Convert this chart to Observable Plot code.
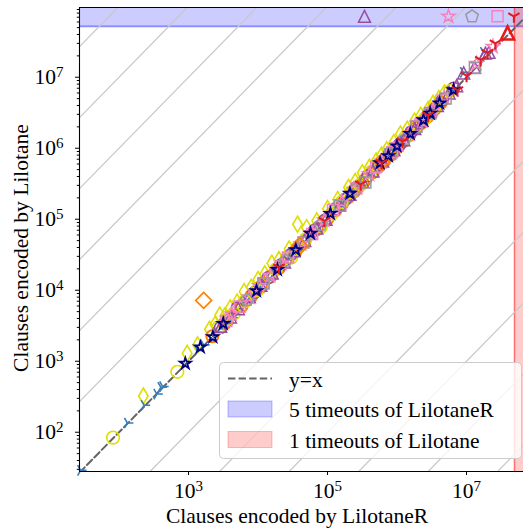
<!DOCTYPE html>
<html>
<head>
<meta charset="utf-8">
<script src="https://cdn.jsdelivr.net/npm/d3@7"></script>
<script src="https://cdn.jsdelivr.net/npm/@observablehq/plot@0.6"></script>
<style>
  html, body { margin: 0; padding: 0; background: #fff; overflow: hidden; }
</style>
</head>
<body>
<div id="chart"></div>
<script>
// Clause counts per instance: x = LilotaneR, y = Lilotane
const blueTriX = [28, 132, 230, 350, 400, 425, 1350, 1650, 2500, 3000, 3300, 4300, 5200, 6800, 7800, 9000, 11500, 14500, 17000, 21000, 30000, 38000, 50000, 68000, 85000, 105000, 140000, 170000, 230000, 290000, 400000, 520000, 700000, 880000, 1200000, 1600000, 2100000, 2700000, 3400000, 4300000, 6000000, 9000000, 17500000];
const blueTriY = [29, 135, 240, 345, 430, 440, 1420, 1700, 2550, 3200, 3350, 4100, 5000, 7000, 8300, 9200, 12500, 14000, 18000, 22500, 33000, 37000, 52000, 66000, 92000, 112000, 150000, 176000, 250000, 300000, 420000, 540000, 760000, 920000, 1300000, 1650000, 2200000, 2800000, 3700000, 4400000, 6500000, 11700000, 22500000];

const purpleCircX = [2900, 3600, 5000, 6500, 9000, 14000, 21000, 30000, 40000, 65000, 90000, 130000, 180000, 260000, 380000, 550000, 800000, 1100000, 1600000, 2200000, 3200000, 4500000, 6500000];
const purpleCircY = [3000, 3700, 5600, 7000, 9400, 15000, 22500, 32000, 43000, 70000, 96000, 140000, 190000, 280000, 410000, 590000, 850000, 1150000, 1700000, 2300000, 3300000, 4800000, 7000000];

const purpleTriX = [2900, 4000, 5200, 7500, 11000, 16000, 24000, 33000, 47000, 70000, 95000, 150000, 210000, 320000, 450000, 620000, 900000, 1250000, 1800000, 2300000, 3000000, 3800000, 5600000, 7200000, 9100000, 13000000, 18700000, 21000000, 340000];
const purpleTriY = [3100, 4200, 5500, 8100, 11800, 17500, 25000, 36000, 50000, 75000, 100000, 160000, 225000, 340000, 480000, 660000, 950000, 1320000, 1900000, 2450000, 3300000, 4000000, 6000000, 7600000, 11500000, 13800000, 21900000, 22400000, 72000000];

const pinkSqX = [3500, 5500, 12000, 27000, 60000, 120000, 260000, 500000, 850000, 1900000, 3000000, 28000000];
const pinkSqY = [3700, 5900, 12500, 29000, 62000, 135000, 270000, 540000, 880000, 2050000, 3100000, 72000000];

const pinkStarX = [4200, 7500, 10500, 15000, 22000, 42000, 60000, 90000, 160000, 240000, 400000, 600000, 1050000, 1500000, 2300000, 3300000, 4800000, 14000000, 24000000, 5500000];
const pinkStarY = [4600, 8000, 11500, 16000, 24000, 45000, 64000, 97000, 175000, 260000, 430000, 650000, 1120000, 1600000, 2450000, 3500000, 5200000, 15500000, 27000000, 72000000];

const graySqX = [12000, 45000, 150000, 350000, 800000, 1900000, 3000000, 5000000, 13200000];
const graySqY = [12500, 47000, 155000, 330000, 830000, 2000000, 3100000, 5000000, 13500000];

const grayPentX = [7000, 25000, 80000, 250000, 1300000, 12000000];
const grayPentY = [7300, 26000, 84000, 260000, 1350000, 72000000];

const orangeCircX = [2200, 3300, 5800, 8000, 11000, 15000, 20000, 26000, 35000, 46000, 70000, 100000, 130000, 160000, 200000, 240000, 280000, 320000, 350000, 450000, 550000, 650000, 780000, 900000, 1050000, 1200000, 1500000, 1900000, 2200000, 2700000, 3000000, 3500000, 4300000];
const orangeCircY = [2250, 3400, 6000, 8300, 11200, 15500, 20500, 27500, 36000, 48000, 72000, 102000, 134000, 163000, 205000, 245000, 290000, 325000, 360000, 460000, 560000, 660000, 790000, 915000, 1070000, 1230000, 1530000, 1950000, 2250000, 2750000, 3050000, 3600000, 4400000];

const orangeDiaX = [1650, 40000, 600000];
const orangeDiaY = [7200, 42000, 640000];

const yellowCircX = [82, 690, 2700, 3600, 4500, 6500, 9800, 18000, 26000, 30000, 38000, 48000, 80000, 115000, 160000, 220000, 300000, 420000, 600000, 900000, 1300000, 1900000, 2500000, 3400000, 5800000];
const yellowCircY = [84, 710, 3000, 3900, 4700, 7000, 10000, 19500, 28000, 29000, 41000, 52000, 78000, 120000, 175000, 240000, 310000, 460000, 650000, 980000, 1400000, 2050000, 2600000, 3700000, 6400000];

const yellowDiaX = [224, 955, 1350, 2000, 2400, 2820, 3300, 3980, 5000, 6310, 8000, 10000, 12500, 15800, 20000, 28000, 37000, 50000, 70000, 100000, 140000, 200000, 250000, 316000, 400000, 500000, 600000, 710000, 900000, 1120000, 1400000, 1780000, 2200000, 2800000, 3300000, 4000000, 4800000];
const yellowDiaY = [324, 1290, 1700, 2820, 3300, 4470, 4300, 5620, 6800, 9550, 11000, 14100, 17000, 24000, 27000, 38000, 85000, 76000, 95000, 141000, 190000, 280000, 340000, 450000, 540000, 660000, 800000, 950000, 1200000, 1580000, 1850000, 2400000, 2900000, 3500000, 4300000, 5000000, 6000000];

const navyStarX = [900, 1480, 2240, 3160, 9500, 19000, 35000, 57000, 110000, 210000, 570000, 750000, 1000000, 1550000, 2400000, 3000000, 4100000, 6500000];
const navyStarY = [930, 1580, 2200, 3390, 9800, 19500, 37000, 63000, 120000, 230000, 620000, 780000, 1070000, 1600000, 2500000, 3100000, 4300000, 6600000];

const redWyeX = [20000, 90000, 300000, 600000, 1200000, 2800000, 7400000, 10000000, 16000000, 20000000, 26000000, 48000000];
const redWyeY = [21000, 95000, 310000, 620000, 1250000, 2900000, 6600000, 10500000, 17500000, 22000000, 30000000, 72000000];

const redTriX = [39000000];
const redTriY = [42000000];

// Timeout thresholds and counts
const lilotaneRTimeoutY = 5.2e7;
const lilotaneTimeoutX = 4.9e7;
const lilotaneRTimeouts = 5;
const lilotaneTimeouts = 1;

// Axes
const xDomain = [27, 6.6e7];
const yDomain = [28, 9.6e7];
const xTicks = [1e3, 1e5, 1e7];
const yTicks = [1e2, 1e3, 1e4, 1e5, 1e6, 1e7];
const guideExponents = [-7, -6, -5, -4, -3, -2, -1, 1, 2, 3, 4, 5, 6, 7];

const FONT = "'Liberation Serif', 'DejaVu Serif', serif";
const FS = 21.5;

// Hollow marker shapes in the style of matplotlib
function poly(points) {
  return {draw(c, size) {
    const r = Math.sqrt(size / Math.PI);
    points.forEach(([px, py], i) => i ? c.lineTo(px * r, py * r) : c.moveTo(px * r, py * r));
    c.closePath();
  }};
}
function arms(degrees) {
  return {draw(c, size) {
    const r = Math.sqrt(size / Math.PI);
    for (const d of degrees) {
      const a = d * Math.PI / 180;
      c.moveTo(0, 0);
      c.lineTo(r * Math.cos(a), r * Math.sin(a));
    }
  }};
}
const starPts = d3.range(10).map(i => {
  const a = -Math.PI / 2 + i * Math.PI / 5, rr = i % 2 ? 0.382 : 1;
  return [rr * Math.cos(a), rr * Math.sin(a)];
});
const pentPts = d3.range(5).map(i => {
  const a = -Math.PI / 2 + i * 2 * Math.PI / 5;
  return [Math.cos(a), Math.sin(a)];
});
const SYM = {
  circle: d3.symbolCircle,
  triangle: poly([[0, -1], [1, 1], [-1, 1]]),
  square: poly([[-1, -1], [1, -1], [1, 1], [-1, 1]]),
  diamond: poly([[0, -1], [1, 0], [0, 1], [-1, 0]]),
  thinDiamond: poly([[0, -1], [0.6, 0], [0, 1], [-0.6, 0]]),
  star: poly(starPts),
  pentagon: poly(pentPts),
  triDown: arms([90, 210, 330]),
  triRight: arms([0, 120, 240])
};

// Drawing order: later series sit on top
const series = [
  {x: yellowDiaX, y: yellowDiaY, color: "#dede00", symbol: SYM.thinDiamond, r: 8, sw: 1.6},
  {x: orangeCircX, y: orangeCircY, color: "#ff7f00", symbol: SYM.circle, r: 6, sw: 2},
  {x: blueTriX, y: blueTriY, color: "#377eb8", symbol: SYM.triRight, r: 6, sw: 1.6},
  {x: purpleCircX, y: purpleCircY, color: "#984ea3", symbol: SYM.circle, r: 6, sw: 1.5},
  {x: yellowCircX, y: yellowCircY, color: "#dede00", symbol: SYM.circle, r: 6.3, sw: 1.6},
  {x: purpleTriX, y: purpleTriY, color: "#984ea3", symbol: SYM.triangle, r: 6, sw: 1.5},
  {x: pinkSqX, y: pinkSqY, color: "#f781bf", symbol: SYM.square, r: 5.5, sw: 1.5},
  {x: pinkStarX, y: pinkStarY, color: "#f781bf", symbol: SYM.star, r: 7, sw: 1.5},
  {x: graySqX, y: graySqY, color: "#999999", symbol: SYM.square, r: 5.5, sw: 1.5},
  {x: grayPentX, y: grayPentY, color: "#999999", symbol: SYM.pentagon, r: 6.5, sw: 1.5},
  {x: orangeDiaX, y: orangeDiaY, color: "#ff7f00", symbol: SYM.diamond, r: 8, sw: 1.6},
  {x: navyStarX, y: navyStarY, color: "#000080", symbol: SYM.star, r: 5.8, sw: 1.8},
  {x: redWyeX, y: redWyeY, color: "#e41a1c", symbol: SYM.triDown, r: 6.5, sw: 2},
  {x: redTriX, y: redTriY, color: "#e41a1c", symbol: SYM.triangle, r: 6.5, sw: 2.6}
];

const guideLines = guideExponents.flatMap(k => xDomain.map(x => ({k, x, y: x * 10 ** k})));
const identity = xDomain.map(x => ({x, y: x}));
const minorY = d3.range(1, 8).flatMap(e => d3.range(2, 10).map(m => m * 10 ** e)).filter(v => v > yDomain[0] && v < yDomain[1]);
const supFormat = d => `10^${Math.round(Math.log10(d))}`;

const chart = Plot.plot({
  width: 523,
  height: 529,
  marginLeft: 79,
  marginRight: 0,
  marginTop: 7,
  marginBottom: 58,
  style: {fontFamily: FONT, fontSize: `${FS}px`, background: "#fff", color: "#000"},
  x: {type: "log", domain: xDomain},
  y: {type: "log", domain: yDomain},
  marks: [
    Plot.rect([lilotaneRTimeoutY], {x1: xDomain[0], x2: xDomain[1], y1: d => d, y2: yDomain[1], fill: "#0000ff", fillOpacity: 0.2}),
    Plot.ruleY([lilotaneRTimeoutY], {stroke: "#0000ff", strokeOpacity: 0.45, strokeWidth: 1.6}),
    Plot.rect([lilotaneTimeoutX], {x1: d => d, x2: xDomain[1], y1: yDomain[0], y2: yDomain[1], fill: "#ff0000", fillOpacity: 0.2}),
    Plot.ruleX([lilotaneTimeoutX], {stroke: "#ff0000", strokeOpacity: 0.45, strokeWidth: 1.6}),
    Plot.line(guideLines, {x: "x", y: "y", z: "k", stroke: "#c8c8c8", strokeWidth: 1.3, clip: true}),
    Plot.line(identity, {x: "x", y: "y", stroke: "#646464", strokeWidth: 2, strokeDasharray: "7.4,3.2", clip: true}),
    ...series.map(s => Plot.dot(s.x.map((x, i) => ({x, y: s.y[i]})), {
      x: "x", y: "y", symbol: s.symbol, r: s.r, stroke: s.color, fill: "none", strokeWidth: s.sw
    })),
    Plot.ruleX([xDomain[0]], {stroke: "#000", strokeWidth: 1.1}),
    Plot.ruleY([yDomain[0]], {stroke: "#000", strokeWidth: 1.1}),
    Plot.ruleY([yDomain[1]], {stroke: "#000", strokeWidth: 1.1}),
    Plot.axisX({ticks: xTicks, tickFormat: supFormat, tickSize: 4, tickPadding: 7, label: null}),
    Plot.axisY({ticks: yTicks, tickFormat: supFormat, tickSize: 4, tickPadding: 12, label: null}),
    Plot.axisY({ticks: minorY, tickFormat: () => "", tickSize: 2.2, label: null})
  ]
});

const svg = d3.select(chart);

// Turn "10^k" tick labels into a base with a raised exponent
svg.selectAll("text").each(function () {
  const m = /^10\^(-?\d+)$/.exec(this.textContent);
  if (!m) return;
  const t = d3.select(this);
  t.text("10");
  t.append("tspan").attr("dy", "-0.45em").attr("font-size", "0.7em").text(m[1]);
});

// Axis titles
svg.append("text")
  .attr("x", 297).attr("y", 523)
  .attr("text-anchor", "middle")
  .attr("font-family", FONT).attr("font-size", FS)
  .text("Clauses encoded by LilotaneR");
svg.append("text")
  .attr("transform", "translate(28,248) rotate(-90)")
  .attr("text-anchor", "middle")
  .attr("font-family", FONT).attr("font-size", FS)
  .text("Clauses encoded by Lilotane");

// Legend
const lg = svg.append("g").attr("font-family", FONT).attr("font-size", FS).attr("text-anchor", "start");
lg.append("rect").attr("x", 219.5).attr("y", 362.5).attr("width", 302).attr("height", 96).attr("rx", 4)
  .attr("fill", "#fff").attr("fill-opacity", 0.8).attr("stroke", "#cccccc").attr("stroke-width", 1);
lg.append("line").attr("x1", 228).attr("x2", 272).attr("y1", 378.5).attr("y2", 378.5)
  .attr("stroke", "#646464").attr("stroke-width", 2).attr("stroke-dasharray", "7.4,3.2");
lg.append("text").attr("x", 289).attr("y", 387).text("y=x");
lg.append("rect").attr("x", 228).attr("y", 401).attr("width", 44).attr("height", 16)
  .attr("fill", "#0000ff").attr("fill-opacity", 0.2).attr("stroke", "#0000ff").attr("stroke-opacity", 0.25);
lg.append("text").attr("x", 289).attr("y", 417).text(`${lilotaneRTimeouts} timeouts of LilotaneR`);
lg.append("rect").attr("x", 228).attr("y", 431.5).attr("width", 44).attr("height", 16)
  .attr("fill", "#ff0000").attr("fill-opacity", 0.2).attr("stroke", "#ff0000").attr("stroke-opacity", 0.25);
lg.append("text").attr("x", 289).attr("y", 447.5).text(`${lilotaneTimeouts} timeouts of Lilotane`);

document.getElementById("chart").appendChild(chart);
</script>
</body>
</html>
